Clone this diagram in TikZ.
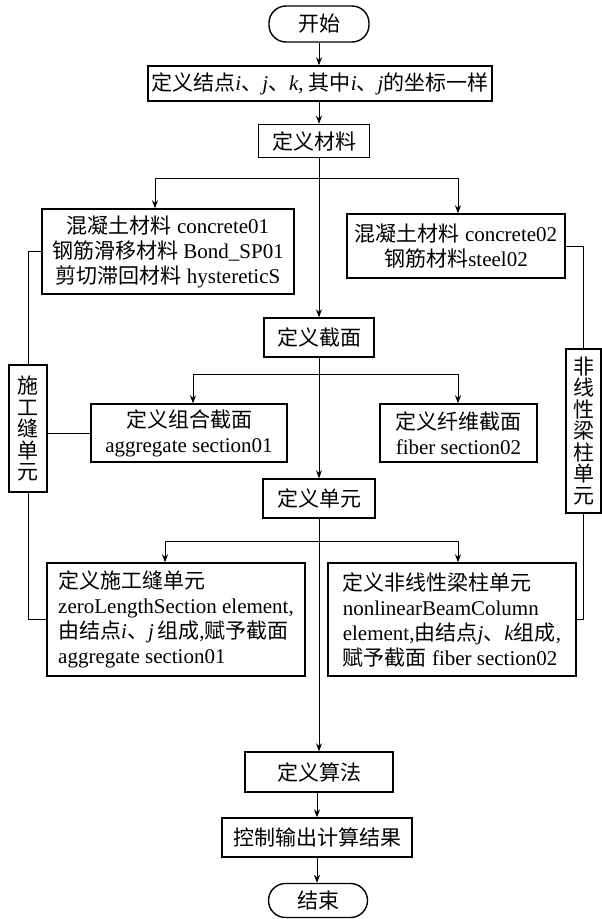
\documentclass[tikz,border=0pt]{standalone}
\usepackage{fontspec}
\setmainfont{Liberation Serif}
\newfontfamily\cjk{Noto Sans CJK SC}
\usetikzlibrary{arrows.meta}
\newcommand{\zhs}[1]{{\cjk #1}}
\begin{document}
\begin{tikzpicture}[x=1pt,y=-1pt,
  font=\fontsize{21}{25}\selectfont,
  box/.style={draw, line width=1.4pt, inner sep=2pt, align=center},
  term/.style={box, rounded corners=17pt},
  vbox/.style={box, font=\cjk\fontsize{21}{21.5}\selectfont},
  ln/.style={line width=0.9pt},
  arr/.style={ln, -{Stealth[length=8pt,width=6pt]}}]
\useasboundingbox (0,0) rectangle (602,919);
% main column
\node[term, minimum width=100pt, minimum height=36pt] (start) at (319,24) {\zhs{开始}};
\node[box, minimum width=344pt, minimum height=35pt] (n1) at (320,83.5)
  {\zhs{定义结点}\textit{i}\zhs{、}\textit{j}\zhs{、}\textit{k}, \zhs{其中}\textit{i}\zhs{、}\textit{j}\zhs{的坐标一样}};
\node[box, minimum width=111pt, minimum height=33pt] (mat) at (314,141) {\zhs{定义材料}};
\node[box, minimum width=252pt, minimum height=85pt] (matL) at (168,251.5)
  {\zhs{混凝土材料} concrete01\\\zhs{钢筋滑移材料} Bond\_SP01\\\zhs{剪切滞回材料} hystereticS};
\node[box, minimum width=218pt, minimum height=64pt] (matR) at (456,246)
  {\zhs{混凝土材料} concrete02\\\zhs{钢筋材料}steel02};
\node[box, minimum width=110pt, minimum height=39pt] (sec) at (319,337.5) {\zhs{定义截面}};
\node[box, minimum width=196pt, minimum height=58pt] (secL) at (189,433)
  {\zhs{定义组合截面}\\aggregate section01};
\node[box, minimum width=157pt, minimum height=58pt] (secR) at (458.5,433)
  {\zhs{定义纤维截面}\\fiber section02};
\node[box, minimum width=112pt, minimum height=39pt] (elem) at (319,498.5) {\zhs{定义单元}};
\node[box, minimum width=258pt, minimum height=113pt, align=left] (elemL) at (176,619.5)
  {\zhs{定义施工缝单元}\\zeroLengthSection element,\\\zhs{由结点}\textit{i}\zhs{、}\textit{j}\,\zhs{组成},\zhs{赋予截面}\\aggregate section01};
\node[box, minimum width=248pt, minimum height=113pt, align=left] (elemR) at (452,619.5)
  {\zhs{定义非线性梁柱单元}\\nonlinearBeamColumn\\element,\zhs{由结点}\textit{j}\zhs{、}\textit{k}\zhs{组成},\\\zhs{赋予截面} fiber section02};
\node[box, minimum width=148pt, minimum height=40pt] (alg) at (319,772) {\zhs{定义算法}};
\node[box, minimum width=190pt, minimum height=39pt] (out) at (317,837.5) {\zhs{控制输出计算结果}};
\node[term, minimum width=99pt, minimum height=34pt] (end) at (318,900.5) {\zhs{结束}};
% side boxes
\node[vbox, minimum width=38pt, minimum height=127pt] (sideL) at (28,428.5) {施\\工\\缝\\单\\元};
\node[vbox, minimum width=35pt, minimum height=164pt] (sideR) at (583.5,431) {非\\线\\性\\梁\\柱\\单\\元};
% branch points
\coordinate (b1l) at (155,178);
\coordinate (b1r) at (458,178);
\coordinate (b2l) at (193,374);
\coordinate (b2r) at (458,374);
\coordinate (b3l) at (165,541);
\coordinate (b3r) at (458,541);
% main connectors
\draw[arr] (start.south) -- (start.south |- n1.north);
\draw[arr] (n1.south -| start.south) -- (start.south |- mat.north);
\draw[arr] (sec.north |- mat.south) -- (sec.north);
\draw[arr] (sec.south) -- (elem.north);
\draw[arr] (elem.south) -- (elem.south |- alg.north);
\draw[arr] (alg.south -| out.north) -- (out.north);
\draw[arr] (out.south) -- (out.south |- end.north);
% branches
\draw[ln] (b1l) -- (b1r);
\draw[arr] (b1l) -- (b1l |- matL.north);
\draw[arr] (b1r) -- (b1r |- matR.north);
\draw[ln] (b2l) -- (b2r);
\draw[arr] (b2l) -- (b2l |- secL.north);
\draw[arr] (b2r) -- (b2r |- secR.north);
\draw[ln] (b3l) -- (b3r);
\draw[arr] (b3l) -- (b3l |- elemL.north);
\draw[arr] (b3r) -- (b3r |- elemR.north);
% side connections
\draw[ln] (matL.west) -| (sideL.north);
\draw[ln] (sideL.south) |- (elemL.west);
\draw[ln] (sideL.east |- secL.west) -- (secL.west);
\draw[ln] (matR.east) -| (sideR.north);
\draw[ln] (sideR.south) |- (elemR.east);
\end{tikzpicture}
\end{document}
